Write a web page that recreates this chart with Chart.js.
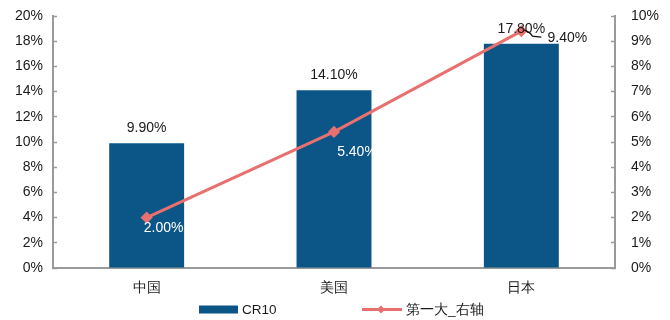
<!DOCTYPE html>
<html>
<head>
<meta charset="utf-8">
<script src="https://cdn.jsdelivr.net/npm/chart.js@4/dist/chart.umd.min.js"></script>
<style>
  html, body { margin: 0; padding: 0; background: #fff; }
  #wrap { width: 670px; height: 320px; position: relative; }
  canvas { display: block; }
</style>
</head>
<body>
<div id="wrap"><canvas id="c" width="670" height="320"></canvas></div>
<script>
// Market concentration by country
const categories = ['中国', '美国', '日本'];
const cr10 = [9.9, 14.1, 17.8];          // left axis, %
const top1 = [2.0, 5.4, 9.4];            // right axis, %
const leftTicks = [0, 2, 4, 6, 8, 10, 12, 14, 16, 18, 20];
const rightTicks = [0, 1, 2, 3, 4, 5, 6, 7, 8, 9, 10];
const seriesNames = ['CR10', '第一大_右轴'];

const BAR = '#0B5587';
const LINE = '#E8706E';
const AXIS = '#9A9A9A';
const FONT = '"Liberation Sans", Arial, sans-serif';

const labelPlugin = {
  id: 'labels',
  afterDatasetsDraw(chart) {
    const ctx = chart.ctx;
    ctx.save();
    ctx.font = '14px ' + FONT;
    ctx.textAlign = 'center';
    ctx.textBaseline = 'middle';
    // bar values above each bar
    const barMeta = chart.getDatasetMeta(1);
    barMeta.data.forEach((el, i) => {
      ctx.fillStyle = '#1a1a1a';
      ctx.fillText(cr10[i].toFixed(2) + '%', el.x, el.y - 15);
    });
    // line values
    const lineMeta = chart.getDatasetMeta(0);
    const offs = [[17, 11, '#ffffff'], [23, 20, '#ffffff'], [46, 7, '#1a1a1a']];
    lineMeta.data.forEach((el, i) => {
      const [dx, dy, col] = offs[i];
      ctx.fillStyle = col;
      ctx.fillText(top1[i].toFixed(2) + '%', el.x + dx, el.y + dy);
    });
    // leader line for the last point
    const p = lineMeta.data[2];
    ctx.strokeStyle = '#111';
    ctx.lineWidth = 1.2;
    ctx.beginPath();
    ctx.moveTo(p.x + 3, p.y - 1);
    ctx.quadraticCurveTo(p.x + 9, p.y + 1, p.x + 11, p.y + 5);
    ctx.lineTo(p.x + 20, p.y + 6);
    ctx.stroke();
    ctx.restore();
  }
};

const legendPlugin = {
  id: 'customLegend',
  afterDraw(chart) {
    const ctx = chart.ctx;
    ctx.save();
    const y = 309.5;
    ctx.font = '13.5px ' + FONT;
    ctx.textBaseline = 'middle';
    ctx.textAlign = 'left';
    // bar swatch
    ctx.fillStyle = BAR;
    ctx.fillRect(199, y - 4, 39, 8);
    ctx.fillStyle = '#1a1a1a';
    ctx.fillText(seriesNames[0], 242, y + 1);
    // line swatch
    ctx.strokeStyle = LINE;
    ctx.lineWidth = 3;
    ctx.beginPath();
    ctx.moveTo(362, y);
    ctx.lineTo(402, y);
    ctx.stroke();
    ctx.fillStyle = LINE;
    ctx.beginPath();
    ctx.moveTo(381, y - 4);
    ctx.lineTo(385, y);
    ctx.lineTo(381, y + 4);
    ctx.lineTo(377, y);
    ctx.closePath();
    ctx.fill();
    ctx.fillStyle = '#1a1a1a';
    ctx.fillText(seriesNames[1], 406, y + 1);
    ctx.restore();
  }
};

new Chart(document.getElementById('c'), {
  data: {
    labels: categories,
    datasets: [
      {
        type: 'line',
        label: seriesNames[1],
        data: top1,
        yAxisID: 'y1',
        borderColor: LINE,
        backgroundColor: LINE,
        borderWidth: 3,
        pointStyle: 'rectRot',
        pointRadius: 4,
        pointBackgroundColor: LINE,
        pointBorderColor: LINE,
        tension: 0,
        order: 0
      },
      {
        type: 'bar',
        label: seriesNames[0],
        data: cr10,
        yAxisID: 'y',
        backgroundColor: BAR,
        categoryPercentage: 1,
        barPercentage: 0.4,
        order: 1
      }
    ]
  },
  options: {
    responsive: false,
    animation: false,
    devicePixelRatio: 1,
    layout: { padding: { top: 16, left: 0, right: 0, bottom: 0 } },
    plugins: { legend: { display: false }, tooltip: { enabled: false } },
    scales: {
      x: {
        grid: { display: false, drawTicks: false },
        border: { color: AXIS, width: 2 },
        ticks: { color: '#1a1a1a', font: { family: FONT, size: 13.5 }, padding: 12 },
        afterFit(s) { s.height = 52; }
      },
      y: {
        position: 'left',
        min: 0, max: 20,
        afterBuildTicks(s) { s.ticks = leftTicks.map(v => ({ value: v })); },
        grid: { display: true, drawOnChartArea: false, drawTicks: true, tickLength: -4, tickColor: AXIS, tickWidth: 1.5 },
        border: { color: AXIS, width: 2 },
        ticks: { autoSkip: false, color: '#1a1a1a', font: { family: FONT, size: 14 }, padding: 14, callback: v => v + '%' },
        afterFit(s) { s.width = 53; s.paddingTop = 0; s.paddingBottom = 0; }
      },
      y1: {
        position: 'right',
        min: 0, max: 10,
        afterBuildTicks(s) { s.ticks = rightTicks.map(v => ({ value: v })); },
        grid: { display: true, drawOnChartArea: false, drawTicks: true, tickLength: -4, tickColor: AXIS, tickWidth: 1.5 },
        border: { color: AXIS, width: 2 },
        ticks: { autoSkip: false, color: '#1a1a1a', font: { family: FONT, size: 14 }, padding: 20, callback: v => v + '%' },
        afterFit(s) { s.width = 55; s.paddingTop = 0; s.paddingBottom = 0; }
      }
    }
  },
  plugins: [labelPlugin, legendPlugin]
});
</script>
</body>
</html>
